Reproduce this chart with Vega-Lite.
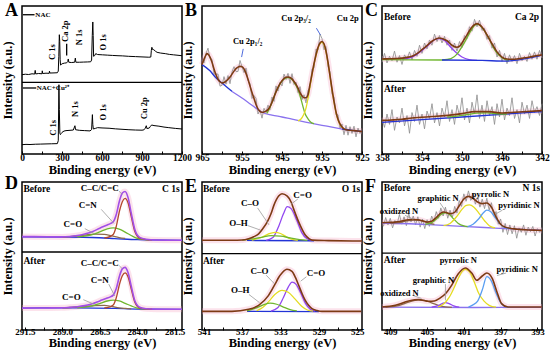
{
"$schema":"https://vega.github.io/schema/vega-lite/v6.json",
"autosize":{"type":"pad"},
"padding":{"left":0,"top":1,"right":0,"bottom":0},
"background":"white",
"bounds":"flush",
"columns":3,
"spacing":{"row":28,"column":20},
"config":{
 "view":{"stroke":"#000","strokeWidth":1.5},
 "font":"Liberation Serif",
 "title":{"anchor":"start","frame":"group","font":"Liberation Serif","fontWeight":"bold","fontSize":18,"dx":-17,"dy":18,"offset":0,"baseline":"alphabetic","color":"#000"},
 "text":{"font":"Liberation Serif","fontWeight":"bold","fontSize":9,"color":"#000"},
 "axis":{"grid":false,"domain":false,"labelFont":"Liberation Serif","labelFontWeight":"bold","labelFontSize":9.5,"labelColor":"#000","titleFont":"Liberation Serif","titleFontWeight":"bold","titleColor":"#000","tickColor":"#000"},
 "axisX":{"tickSize":-3,"labelPadding":1.5,"titleFontSize":12.5,"titlePadding":1,"labelFlush":false,"labelOverlap":false},
 "axisY":{"labels":false,"ticks":false,"titleFontSize":12.5,"titlePadding":8}
},
"datasets":{
"A":[
{"k":"a1","x":0,"y":53.6},{"k":"a1","x":25,"y":53.9},{"k":"a1","x":50,"y":53.7},{"k":"a1","x":75,"y":54.2},{"k":"a1","x":95,"y":54.0},{"k":"a1","x":99,"y":56.5},{"k":"a1","x":103,"y":54.1},{"k":"a1","x":125,"y":54.4},{"k":"a1","x":150,"y":54.2},{"k":"a1","x":152,"y":56.2},{"k":"a1","x":155,"y":54.4},{"k":"a1","x":180,"y":54.6},{"k":"a1","x":204,"y":54.5},{"k":"a1","x":206,"y":56.0},{"k":"a1","x":209,"y":54.7},{"k":"a1","x":240,"y":54.8},{"k":"a1","x":265,"y":54.9},{"k":"a1","x":272,"y":56},{"k":"a1","x":276,"y":66},{"k":"a1","x":280,"y":80.6},{"k":"a1","x":283,"y":76},{"k":"a1","x":286,"y":64},{"k":"a1","x":289,"y":60},{"k":"a1","x":294,"y":60.5},{"k":"a1","x":301,"y":61},{"k":"a1","x":318,"y":61.4},{"k":"a1","x":335,"y":61.6},{"k":"a1","x":343,"y":62.5},{"k":"a1","x":347,"y":64.2},{"k":"a1","x":351,"y":62},{"k":"a1","x":370,"y":61.8},{"k":"a1","x":395,"y":62},{"k":"a1","x":400,"y":64.8},{"k":"a1","x":404,"y":62},{"k":"a1","x":430,"y":62},{"k":"a1","x":460,"y":62.1},{"k":"a1","x":490,"y":62.2},{"k":"a1","x":515,"y":62.3},{"k":"a1","x":522,"y":63.5},{"k":"a1","x":527,"y":80},{"k":"a1","x":531,"y":89.2},{"k":"a1","x":534,"y":80},{"k":"a1","x":537,"y":66},{"k":"a1","x":545,"y":66.5},{"k":"a1","x":553,"y":67.8},{"k":"a1","x":567,"y":67.2},{"k":"a1","x":604,"y":67},{"k":"a1","x":640,"y":66.8},{"k":"a1","x":678,"y":66.6},{"k":"a1","x":720,"y":66.4},{"k":"a1","x":753,"y":66.3},{"k":"a1","x":800,"y":66},{"k":"a1","x":852,"y":65.8},{"k":"a1","x":900,"y":65.6},{"k":"a1","x":951,"y":65.4},{"k":"a1","x":966,"y":65.5},{"k":"a1","x":970,"y":70},{"k":"a1","x":974,"y":72.1},{"k":"a1","x":980,"y":70.5},{"k":"a1","x":988,"y":70.5},{"k":"a1","x":1000,"y":69.5},{"k":"a1","x":1013,"y":68.7},{"k":"a1","x":1040,"y":68.2},{"k":"a1","x":1075,"y":67.8},{"k":"a1","x":1105,"y":67.3},{"k":"a1","x":1137,"y":67},{"k":"a1","x":1170,"y":66.7},{"k":"a1","x":1200,"y":66.4},
{"k":"a2","x":0,"y":6.3},{"k":"a2","x":30,"y":6.5},{"k":"a2","x":60,"y":6.4},{"k":"a2","x":100,"y":6.6},{"k":"a2","x":140,"y":6.7},{"k":"a2","x":180,"y":6.8},{"k":"a2","x":220,"y":6.9},{"k":"a2","x":265,"y":7.0},{"k":"a2","x":272,"y":9},{"k":"a2","x":277,"y":46.8},{"k":"a2","x":280,"y":30},{"k":"a2","x":284,"y":14},{"k":"a2","x":288,"y":13.1},{"k":"a2","x":295,"y":14},{"k":"a2","x":300,"y":14.6},{"k":"a2","x":315,"y":15.5},{"k":"a2","x":330,"y":15.8},{"k":"a2","x":360,"y":16},{"k":"a2","x":385,"y":16.2},{"k":"a2","x":397,"y":19.1},{"k":"a2","x":402,"y":16.4},{"k":"a2","x":430,"y":16},{"k":"a2","x":470,"y":15.8},{"k":"a2","x":510,"y":15.6},{"k":"a2","x":522,"y":16.5},{"k":"a2","x":528,"y":26.6},{"k":"a2","x":531,"y":20},{"k":"a2","x":535,"y":16.9},{"k":"a2","x":550,"y":17.3},{"k":"a2","x":567,"y":17.8},{"k":"a2","x":600,"y":17.6},{"k":"a2","x":653,"y":17.4},{"k":"a2","x":700,"y":17},{"k":"a2","x":750,"y":16.7},{"k":"a2","x":802,"y":16.4},{"k":"a2","x":850,"y":16.2},{"k":"a2","x":900,"y":16.1},{"k":"a2","x":914,"y":16.3},{"k":"a2","x":925,"y":17.5},{"k":"a2","x":932,"y":19.1},{"k":"a2","x":938,"y":17},{"k":"a2","x":945,"y":17.6},{"k":"a2","x":952,"y":17.3},{"k":"a2","x":962,"y":18.5},{"k":"a2","x":972,"y":19.6},{"k":"a2","x":990,"y":19.2},{"k":"a2","x":1027,"y":18.8},{"k":"a2","x":1065,"y":18.2},{"k":"a2","x":1101,"y":17.8},{"k":"a2","x":1150,"y":17.3},{"k":"a2","x":1200,"y":16.9}
],
"Ar":[{"x":0,"x2":1200,"y":48.4,"y2":48.4},{"x":7,"x2":94,"y":94.1,"y2":94.1},{"x":7,"x2":107,"y":44.6,"y2":44.6},{"x":335,"x2":335,"y":66.5,"y2":74.5}],
"At":[{"t":"C 1s","x":224,"y":68.9},{"t":"Ca 2p","x":325,"y":83},{"t":"N 1s","x":430,"y":78.8},{"t":"O 1s","x":604,"y":75.5},{"t":"C 1s","x":231,"y":17.6},{"t":"N 1s","x":400,"y":30.4},{"t":"O 1s","x":604,"y":28.2},{"t":"Cu 2p","x":914,"y":30.9}],
"Al":[{"t":"NAC","x":100,"y":94.1},{"t":"NAC+Cu²⁺","x":110,"y":44.6}],
"B":[
{"k":"e","c":"env","x":965,"y":60.4},{"k":"e","c":"env","x":964.5,"y":64},{"k":"e","c":"env","x":964,"y":67},{"k":"e","c":"env","x":963.75,"y":67.8},{"k":"e","c":"env","x":963.5,"y":67.5},{"k":"e","c":"env","x":963,"y":65.5},{"k":"e","c":"env","x":962.5,"y":62},{"k":"e","c":"env","x":962,"y":57.5},{"k":"e","c":"env","x":961.5,"y":53.5},{"k":"e","c":"env","x":961,"y":50.5},{"k":"e","c":"env","x":960.5,"y":48.8},{"k":"e","c":"env","x":960,"y":48},{"k":"e","c":"env","x":959.5,"y":48.3},{"k":"e","c":"env","x":959,"y":49.2},{"k":"e","c":"env","x":958.5,"y":50.5},{"k":"e","c":"env","x":958,"y":52},{"k":"e","c":"env","x":957.5,"y":54},{"k":"e","c":"env","x":957,"y":56},{"k":"e","c":"env","x":956.5,"y":57.7},{"k":"e","c":"env","x":956,"y":58.7},{"k":"e","c":"env","x":955.5,"y":59.2},{"k":"e","c":"env","x":955,"y":59},{"k":"e","c":"env","x":954.5,"y":57.5},{"k":"e","c":"env","x":954,"y":54.5},{"k":"e","c":"env","x":953.5,"y":50.5},{"k":"e","c":"env","x":953,"y":46},{"k":"e","c":"env","x":952.5,"y":41.5},{"k":"e","c":"env","x":952,"y":37.5},{"k":"e","c":"env","x":951.5,"y":33.5},{"k":"e","c":"env","x":951,"y":30.5},{"k":"e","c":"env","x":950.5,"y":28.8},{"k":"e","c":"env","x":950,"y":28.2},{"k":"e","c":"env","x":949.5,"y":28.4},{"k":"e","c":"env","x":949,"y":29},{"k":"e","c":"env","x":948.5,"y":30},{"k":"e","c":"env","x":948,"y":32},{"k":"e","c":"env","x":947.5,"y":35},{"k":"e","c":"env","x":947,"y":38.5},{"k":"e","c":"env","x":946.5,"y":42},{"k":"e","c":"env","x":946,"y":45},{"k":"e","c":"env","x":945.5,"y":47.5},{"k":"e","c":"env","x":945,"y":49.5},{"k":"e","c":"env","x":944.5,"y":51},{"k":"e","c":"env","x":944,"y":51.8},{"k":"e","c":"env","x":943.5,"y":52},{"k":"e","c":"env","x":943,"y":51.7},{"k":"e","c":"env","x":942.5,"y":50.8},{"k":"e","c":"env","x":942,"y":49},{"k":"e","c":"env","x":941.5,"y":47},{"k":"e","c":"env","x":941,"y":44.5},{"k":"e","c":"env","x":940.5,"y":41.5},{"k":"e","c":"env","x":940,"y":39.3},{"k":"e","c":"env","x":939.5,"y":38},{"k":"e","c":"env","x":939,"y":38},{"k":"e","c":"env","x":938.5,"y":40},{"k":"e","c":"env","x":938,"y":47},{"k":"e","c":"env","x":937.5,"y":54},{"k":"e","c":"env","x":937,"y":61},{"k":"e","c":"env","x":936.5,"y":67},{"k":"e","c":"env","x":936,"y":72},{"k":"e","c":"env","x":935.5,"y":75},{"k":"e","c":"env","x":935,"y":76},{"k":"e","c":"env","x":934.5,"y":74.5},{"k":"e","c":"env","x":934,"y":69.5},{"k":"e","c":"env","x":933.5,"y":62},{"k":"e","c":"env","x":933,"y":53},{"k":"e","c":"env","x":932.5,"y":44},{"k":"e","c":"env","x":932,"y":35.5},{"k":"e","c":"env","x":931.5,"y":28.5},{"k":"e","c":"env","x":931,"y":23.5},{"k":"e","c":"env","x":930.5,"y":20.3},{"k":"e","c":"env","x":930,"y":18.3},{"k":"e","c":"env","x":929.5,"y":17},{"k":"e","c":"env","x":929,"y":16.4},{"k":"e","c":"env","x":928,"y":16},{"k":"e","c":"env","x":927,"y":15.8},{"k":"e","c":"env","x":926,"y":15.5},{"k":"e","c":"env","x":925,"y":15.3},
{"k":"n","c":"gray","x":965,"y":63.4},{"k":"n","c":"gray","x":964.5,"y":61.5},{"k":"n","c":"gray","x":964,"y":68},{"k":"n","c":"gray","x":963.5,"y":71.5},{"k":"n","c":"gray","x":963,"y":64.5},{"k":"n","c":"gray","x":962.5,"y":64},{"k":"n","c":"gray","x":962,"y":54},{"k":"n","c":"gray","x":961.5,"y":54},{"k":"n","c":"gray","x":961,"y":54},{"k":"n","c":"gray","x":960.5,"y":45.8},{"k":"n","c":"gray","x":960,"y":46.5},{"k":"n","c":"gray","x":959.5,"y":52.3},{"k":"n","c":"gray","x":959,"y":47.2},{"k":"n","c":"gray","x":958.5,"y":53},{"k":"n","c":"gray","x":958,"y":47.5},{"k":"n","c":"gray","x":957.5,"y":55.5},{"k":"n","c":"gray","x":957,"y":59},{"k":"n","c":"gray","x":956.5,"y":55.7},{"k":"n","c":"gray","x":956,"y":55.7},{"k":"n","c":"gray","x":955.5,"y":63.2},{"k":"n","c":"gray","x":955,"y":59},{"k":"n","c":"gray","x":954.5,"y":55},{"k":"n","c":"gray","x":954,"y":58},{"k":"n","c":"gray","x":953.5,"y":49.5},{"k":"n","c":"gray","x":953,"y":47.5},{"k":"n","c":"gray","x":952.5,"y":37.5},{"k":"n","c":"gray","x":952,"y":39.5},{"k":"n","c":"gray","x":951.5,"y":37.5},{"k":"n","c":"gray","x":951,"y":27},{"k":"n","c":"gray","x":950.5,"y":29.8},{"k":"n","c":"gray","x":950,"y":24.2},{"k":"n","c":"gray","x":949.5,"y":30.9},{"k":"n","c":"gray","x":949,"y":28},{"k":"n","c":"gray","x":948.5,"y":33},{"k":"n","c":"gray","x":948,"y":30},{"k":"n","c":"gray","x":947.5,"y":38.5},{"k":"n","c":"gray","x":947,"y":35.5},{"k":"n","c":"gray","x":946.5,"y":46},{"k":"n","c":"gray","x":946,"y":42.5},{"k":"n","c":"gray","x":945.5,"y":48.5},{"k":"n","c":"gray","x":945,"y":46},{"k":"n","c":"gray","x":944.5,"y":54},{"k":"n","c":"gray","x":944,"y":50.3},{"k":"n","c":"gray","x":943.5,"y":54.5},{"k":"n","c":"gray","x":943,"y":47.7},{"k":"n","c":"gray","x":942.5,"y":54.3},{"k":"n","c":"gray","x":942,"y":47},{"k":"n","c":"gray","x":941.5,"y":48.5},{"k":"n","c":"gray","x":941,"y":41.5},{"k":"n","c":"gray","x":940.5,"y":45.5},{"k":"n","c":"gray","x":940,"y":36.8},{"k":"n","c":"gray","x":939.5,"y":40},{"k":"n","c":"gray","x":939,"y":34.5},{"k":"n","c":"gray","x":938.5,"y":43},{"k":"n","c":"gray","x":938,"y":45},{"k":"n","c":"gray","x":937.5,"y":57.5},{"k":"n","c":"gray","x":937,"y":58},{"k":"n","c":"gray","x":936.5,"y":71},{"k":"n","c":"gray","x":936,"y":70},{"k":"n","c":"gray","x":935.5,"y":81},{"k":"n","c":"gray","x":935,"y":78},{"k":"n","c":"gray","x":934.5,"y":70.5},{"k":"n","c":"gray","x":934,"y":72.5},{"k":"n","c":"gray","x":933.5,"y":59},{"k":"n","c":"gray","x":933,"y":55.5},{"k":"n","c":"gray","x":932.5,"y":40.5},{"k":"n","c":"gray","x":932,"y":38.5},{"k":"n","c":"gray","x":931.5,"y":26.5},{"k":"n","c":"gray","x":931,"y":26.5},{"k":"n","c":"gray","x":930.5,"y":17.3},{"k":"n","c":"gray","x":930,"y":20.3},{"k":"n","c":"gray","x":929.5,"y":13},{"k":"n","c":"gray","x":929,"y":19.4},{"k":"n","c":"gray","x":928.5,"y":12.7},{"k":"n","c":"gray","x":928,"y":18.5},{"k":"n","c":"gray","x":927.5,"y":13.9},{"k":"n","c":"gray","x":927,"y":18.8},{"k":"n","c":"gray","x":926.5,"y":11.6},{"k":"n","c":"gray","x":926,"y":17.5},{"k":"n","c":"gray","x":925.5,"y":13.9},{"k":"n","c":"gray","x":925,"y":16.3},
{"k":"b1","c":"bg","x":965,"y":60.4},{"k":"b1","c":"bg","x":963,"y":56.2},{"k":"b1","c":"bg","x":961.7,"y":52},{"k":"b1","c":"bg","x":960,"y":48},{"k":"b1","c":"bg","x":957.5,"y":42.3},
{"k":"b2","c":"bgp","x":957.5,"y":42.3},{"k":"b2","c":"bgp","x":955,"y":37.8},{"k":"b2","c":"bgp","x":953.3,"y":34.5},{"k":"b2","c":"bgp","x":951.5,"y":31},{"k":"b2","c":"bgp","x":950,"y":28.2},{"k":"b2","c":"bgp","x":947.5,"y":26.3},{"k":"b2","c":"bgp","x":945,"y":25},{"k":"b2","c":"bgp","x":942.5,"y":23.5},{"k":"b2","c":"bgp","x":940,"y":22.1},{"k":"b2","c":"bgp","x":937.5,"y":20.7},{"k":"b2","c":"bgp","x":935,"y":19.4},{"k":"b2","c":"bgp","x":932.5,"y":18.2},{"k":"b2","c":"bgp","x":930,"y":16.9},
{"k":"b3","c":"bg","x":930,"y":16.9},{"k":"b3","c":"bg","x":927.5,"y":16},{"k":"b3","c":"bg","x":925,"y":15.3},
{"k":"g","c":"green","x":948.8,"y":27.5},{"k":"g","c":"green","x":948.3,"y":29.8},{"k":"g","c":"green","x":947.5,"y":34.8},{"k":"g","c":"green","x":946.7,"y":40.8},{"k":"g","c":"green","x":946,"y":44.8},{"k":"g","c":"green","x":945,"y":49.3},{"k":"g","c":"green","x":944,"y":51.5},{"k":"g","c":"green","x":943.3,"y":51.7},{"k":"g","c":"green","x":942.5,"y":50.3},{"k":"g","c":"green","x":941.7,"y":47.2},{"k":"g","c":"green","x":941,"y":43.5},{"k":"g","c":"green","x":940.4,"y":38.5},{"k":"g","c":"green","x":939.8,"y":32.5},{"k":"g","c":"green","x":939.2,"y":27},{"k":"g","c":"green","x":938.5,"y":23.8},{"k":"g","c":"green","x":937.8,"y":21.5},{"k":"g","c":"green","x":937,"y":20.5},
{"k":"y","c":"yellow","x":941,"y":22.4},{"k":"y","c":"yellow","x":940.3,"y":23.5},{"k":"y","c":"yellow","x":939.6,"y":26.5},{"k":"y","c":"yellow","x":939,"y":31},{"k":"y","c":"yellow","x":938.5,"y":37.5},{"k":"y","c":"yellow","x":938,"y":45.5},{"k":"y","c":"yellow","x":937.5,"y":53.5},{"k":"y","c":"yellow","x":937,"y":60.5},{"k":"y","c":"yellow","x":936.5,"y":66.5},{"k":"y","c":"yellow","x":936,"y":71.5},{"k":"y","c":"yellow","x":935.5,"y":74.5},{"k":"y","c":"yellow","x":935,"y":75.5},{"k":"y","c":"yellow","x":934.5,"y":74},{"k":"y","c":"yellow","x":934,"y":69},{"k":"y","c":"yellow","x":933.5,"y":61.5},{"k":"y","c":"yellow","x":933,"y":52.5},{"k":"y","c":"yellow","x":932.5,"y":43.5},{"k":"y","c":"yellow","x":932,"y":35},{"k":"y","c":"yellow","x":931.5,"y":28},{"k":"y","c":"yellow","x":931,"y":23},{"k":"y","c":"yellow","x":930.5,"y":20},{"k":"y","c":"yellow","x":930,"y":18},{"k":"y","c":"yellow","x":929.3,"y":17}
],
"Br":[{"x":936.4,"x2":935.4,"y":85,"y2":80.5},{"x":954.7,"x2":955.1,"y":71,"y2":65.5}],
"Bc":[{"t":"Cu 2p₃/₂","x":941.5,"y":91.9},{"t":"Cu 2p₁/₂","x":953.6,"y":76.1}],
"Bri":[{"t":"Cu 2p","x":925.8,"y":91.9}],
"C":[
{"k":"e1","c":"env","x":358,"y":64.2},{"k":"e1","c":"env","x":357.5,"y":64.3},{"k":"e1","c":"env","x":357,"y":64.4},{"k":"e1","c":"env","x":356.5,"y":64.5},{"k":"e1","c":"env","x":356,"y":64.8},{"k":"e1","c":"env","x":355.5,"y":65.3},{"k":"e1","c":"env","x":355,"y":66},{"k":"e1","c":"env","x":354.5,"y":67.8},{"k":"e1","c":"env","x":354,"y":70.5},{"k":"e1","c":"env","x":353.5,"y":73.3},{"k":"e1","c":"env","x":353,"y":76.2},{"k":"e1","c":"env","x":352.5,"y":78},{"k":"e1","c":"env","x":352.3,"y":78.4},{"k":"e1","c":"env","x":352,"y":78.1},{"k":"e1","c":"env","x":351.5,"y":76.5},{"k":"e1","c":"env","x":351,"y":73.5},{"k":"e1","c":"env","x":350.5,"y":72.1},{"k":"e1","c":"env","x":350.2,"y":73},{"k":"e1","c":"env","x":350,"y":75},{"k":"e1","c":"env","x":349.5,"y":80.5},{"k":"e1","c":"env","x":349,"y":85.8},{"k":"e1","c":"env","x":348.5,"y":88.1},{"k":"e1","c":"env","x":348,"y":85.8},{"k":"e1","c":"env","x":347.5,"y":80.5},{"k":"e1","c":"env","x":347,"y":74.5},{"k":"e1","c":"env","x":346.5,"y":69},{"k":"e1","c":"env","x":346,"y":65.5},{"k":"e1","c":"env","x":345.5,"y":64.2},{"k":"e1","c":"env","x":345,"y":64},{"k":"e1","c":"env","x":344.5,"y":64.2},{"k":"e1","c":"env","x":344,"y":64.6},{"k":"e1","c":"env","x":343.5,"y":65.2},{"k":"e1","c":"env","x":343,"y":65.8},{"k":"e1","c":"env","x":342.5,"y":66.5},{"k":"e1","c":"env","x":342,"y":67},
{"k":"p1","c":"purple","x":356,"y":64},{"k":"p1","c":"purple","x":355,"y":65.5},{"k":"p1","c":"purple","x":354,"y":70},{"k":"p1","c":"purple","x":353.3,"y":74},{"k":"p1","c":"purple","x":352.8,"y":77},{"k":"p1","c":"purple","x":352.3,"y":78},{"k":"p1","c":"purple","x":351.7,"y":76.5},{"k":"p1","c":"purple","x":351.1,"y":72},{"k":"p1","c":"purple","x":350.5,"y":68},{"k":"p1","c":"purple","x":350,"y":65.5},{"k":"p1","c":"purple","x":349.3,"y":63.8},{"k":"p1","c":"purple","x":348.5,"y":63.3},
{"k":"g1","c":"green","x":352,"y":63.5},{"k":"g1","c":"green","x":351.1,"y":64.5},{"k":"g1","c":"green","x":350.5,"y":67.5},{"k":"g1","c":"green","x":350,"y":72.5},{"k":"g1","c":"green","x":349.3,"y":81},{"k":"g1","c":"green","x":348.8,"y":86.5},{"k":"g1","c":"green","x":348.5,"y":87.8},{"k":"g1","c":"green","x":348,"y":85.5},{"k":"g1","c":"green","x":347.3,"y":78},{"k":"g1","c":"green","x":346.7,"y":70},{"k":"g1","c":"green","x":346,"y":65},{"k":"g1","c":"green","x":345.3,"y":63},
{"k":"bb","c":"green","x":358,"y":63.8},{"k":"bb","c":"green","x":355,"y":63.6},{"k":"bb","c":"green","x":352,"y":63.5},
{"k":"b1","c":"bg","x":352,"y":63.5},{"k":"b1","c":"bg","x":348,"y":63.2},{"k":"b1","c":"bg","x":345.5,"y":62.8},{"k":"b1","c":"bg","x":344.5,"y":63.4},{"k":"b1","c":"bg","x":343.5,"y":64.6},{"k":"b1","c":"bg","x":342.5,"y":66},{"k":"b1","c":"bg","x":342,"y":66.8},
{"k":"e2","c":"env","x":358,"y":22.7},{"k":"e2","c":"env","x":356,"y":23.5},{"k":"e2","c":"env","x":355,"y":24.3},{"k":"e2","c":"env","x":353,"y":25.3},{"k":"e2","c":"env","x":351.7,"y":25.9},{"k":"e2","c":"env","x":350,"y":27.3},{"k":"e2","c":"env","x":348.7,"y":28.6},{"k":"e2","c":"env","x":347.3,"y":28.6},{"k":"e2","c":"env","x":346,"y":27.7},{"k":"e2","c":"env","x":344.7,"y":28.2},{"k":"e2","c":"env","x":342,"y":29.3},
{"k":"b2","c":"bg","x":358,"y":21.4},{"k":"b2","c":"bg","x":350,"y":25},{"k":"b2","c":"bg","x":342,"y":28.6},
{"k":"g2","c":"green","x":351.5,"y":24.9},{"k":"g2","c":"green","x":350.5,"y":25.6},{"k":"g2","c":"green","x":349.5,"y":26.6},{"k":"g2","c":"green","x":348.5,"y":27.6},{"k":"g2","c":"green","x":347.5,"y":27.8},{"k":"g2","c":"green","x":346.5,"y":27.2},{"k":"g2","c":"green","x":345.5,"y":26.9},
{"k":"n1","c":"gray","x":358,"y":62},{"k":"n1","c":"gray","x":357.75,"y":68},{"k":"n1","c":"gray","x":357.5,"y":61.5},{"k":"n1","c":"gray","x":357.25,"y":66},{"k":"n1","c":"gray","x":357,"y":63},{"k":"n1","c":"gray","x":356.75,"y":69.5},{"k":"n1","c":"gray","x":356.5,"y":62},{"k":"n1","c":"gray","x":356.25,"y":66.5},{"k":"n1","c":"gray","x":356,"y":60.5},{"k":"n1","c":"gray","x":355.75,"y":67},{"k":"n1","c":"gray","x":355.5,"y":64},{"k":"n1","c":"gray","x":355.25,"y":69},{"k":"n1","c":"gray","x":355,"y":63.5},{"k":"n1","c":"gray","x":354.75,"y":70},{"k":"n1","c":"gray","x":354.5,"y":66},{"k":"n1","c":"gray","x":354.25,"y":73.5},{"k":"n1","c":"gray","x":354,"y":68},{"k":"n1","c":"gray","x":353.75,"y":75},{"k":"n1","c":"gray","x":353.5,"y":71},{"k":"n1","c":"gray","x":353.25,"y":77},{"k":"n1","c":"gray","x":353,"y":73.5},{"k":"n1","c":"gray","x":352.75,"y":81},{"k":"n1","c":"gray","x":352.5,"y":76},{"k":"n1","c":"gray","x":352.25,"y":80},{"k":"n1","c":"gray","x":352,"y":75},{"k":"n1","c":"gray","x":351.75,"y":79.5},{"k":"n1","c":"gray","x":351.5,"y":73.5},{"k":"n1","c":"gray","x":351.25,"y":77},{"k":"n1","c":"gray","x":351,"y":70},{"k":"n1","c":"gray","x":350.75,"y":75},{"k":"n1","c":"gray","x":350.5,"y":69.5},{"k":"n1","c":"gray","x":350.25,"y":76},{"k":"n1","c":"gray","x":350,"y":72},{"k":"n1","c":"gray","x":349.75,"y":80},{"k":"n1","c":"gray","x":349.5,"y":78},{"k":"n1","c":"gray","x":349.25,"y":86},{"k":"n1","c":"gray","x":349,"y":83},{"k":"n1","c":"gray","x":348.75,"y":91},{"k":"n1","c":"gray","x":348.5,"y":86},{"k":"n1","c":"gray","x":348.25,"y":90.5},{"k":"n1","c":"gray","x":348,"y":83.5},{"k":"n1","c":"gray","x":347.75,"y":85},{"k":"n1","c":"gray","x":347.5,"y":77.5},{"k":"n1","c":"gray","x":347.25,"y":80},{"k":"n1","c":"gray","x":347,"y":71.5},{"k":"n1","c":"gray","x":346.75,"y":75},{"k":"n1","c":"gray","x":346.5,"y":65.5},{"k":"n1","c":"gray","x":346.25,"y":70},{"k":"n1","c":"gray","x":346,"y":62.5},{"k":"n1","c":"gray","x":345.75,"y":68},{"k":"n1","c":"gray","x":345.5,"y":61},{"k":"n1","c":"gray","x":345.25,"y":67},{"k":"n1","c":"gray","x":345,"y":62.5},{"k":"n1","c":"gray","x":344.75,"y":66.5},{"k":"n1","c":"gray","x":344.5,"y":61},{"k":"n1","c":"gray","x":344.25,"y":68},{"k":"n1","c":"gray","x":344,"y":63},{"k":"n1","c":"gray","x":343.75,"y":66},{"k":"n1","c":"gray","x":343.5,"y":62.5},{"k":"n1","c":"gray","x":343.25,"y":68.5},{"k":"n1","c":"gray","x":343,"y":64},{"k":"n1","c":"gray","x":342.75,"y":69},{"k":"n1","c":"gray","x":342.5,"y":64},{"k":"n1","c":"gray","x":342.25,"y":70},{"k":"n1","c":"gray","x":342,"y":65},
{"k":"n2","c":"gray","x":358,"y":24},{"k":"n2","c":"gray","x":357.75,"y":18},{"k":"n2","c":"gray","x":357.5,"y":27},{"k":"n2","c":"gray","x":357.25,"y":20},{"k":"n2","c":"gray","x":357,"y":30},{"k":"n2","c":"gray","x":356.75,"y":16},{"k":"n2","c":"gray","x":356.5,"y":25},{"k":"n2","c":"gray","x":356.25,"y":21},{"k":"n2","c":"gray","x":356,"y":31},{"k":"n2","c":"gray","x":355.75,"y":19},{"k":"n2","c":"gray","x":355.5,"y":26},{"k":"n2","c":"gray","x":355.25,"y":14},{"k":"n2","c":"gray","x":355,"y":28},{"k":"n2","c":"gray","x":354.75,"y":22},{"k":"n2","c":"gray","x":354.5,"y":33},{"k":"n2","c":"gray","x":354.25,"y":20},{"k":"n2","c":"gray","x":354,"y":27},{"k":"n2","c":"gray","x":353.75,"y":17},{"k":"n2","c":"gray","x":353.5,"y":29},{"k":"n2","c":"gray","x":353.25,"y":24},{"k":"n2","c":"gray","x":353,"y":34},{"k":"n2","c":"gray","x":352.75,"y":21},{"k":"n2","c":"gray","x":352.5,"y":28},{"k":"n2","c":"gray","x":352.25,"y":19},{"k":"n2","c":"gray","x":352,"y":31},{"k":"n2","c":"gray","x":351.75,"y":25},{"k":"n2","c":"gray","x":351.5,"y":36},{"k":"n2","c":"gray","x":351.25,"y":22},{"k":"n2","c":"gray","x":351,"y":30},{"k":"n2","c":"gray","x":350.75,"y":20},{"k":"n2","c":"gray","x":350.5,"y":33},{"k":"n2","c":"gray","x":350.25,"y":26},{"k":"n2","c":"gray","x":350,"y":38},{"k":"n2","c":"gray","x":349.75,"y":23},{"k":"n2","c":"gray","x":349.5,"y":31},{"k":"n2","c":"gray","x":349.25,"y":21},{"k":"n2","c":"gray","x":349,"y":35},{"k":"n2","c":"gray","x":348.75,"y":27},{"k":"n2","c":"gray","x":348.5,"y":40},{"k":"n2","c":"gray","x":348.25,"y":24},{"k":"n2","c":"gray","x":348,"y":33},{"k":"n2","c":"gray","x":347.75,"y":22},{"k":"n2","c":"gray","x":347.5,"y":36},{"k":"n2","c":"gray","x":347.25,"y":26},{"k":"n2","c":"gray","x":347,"y":32},{"k":"n2","c":"gray","x":346.75,"y":20},{"k":"n2","c":"gray","x":346.5,"y":34},{"k":"n2","c":"gray","x":346.25,"y":25},{"k":"n2","c":"gray","x":346,"y":37},{"k":"n2","c":"gray","x":345.75,"y":23},{"k":"n2","c":"gray","x":345.5,"y":31},{"k":"n2","c":"gray","x":345.25,"y":26},{"k":"n2","c":"gray","x":345,"y":38},{"k":"n2","c":"gray","x":344.75,"y":24},{"k":"n2","c":"gray","x":344.5,"y":30},{"k":"n2","c":"gray","x":344.25,"y":21},{"k":"n2","c":"gray","x":344,"y":35},{"k":"n2","c":"gray","x":343.75,"y":27},{"k":"n2","c":"gray","x":343.5,"y":33},{"k":"n2","c":"gray","x":343.25,"y":24},{"k":"n2","c":"gray","x":343,"y":36},{"k":"n2","c":"gray","x":342.75,"y":28},{"k":"n2","c":"gray","x":342.5,"y":32},{"k":"n2","c":"gray","x":342.25,"y":26},{"k":"n2","c":"gray","x":342,"y":34}
],
"Cl":[{"t":"Before","x":357.8,"y":92.6},{"t":"After","x":357.8,"y":43.9}],
"Cri":[{"t":"Ca 2p","x":342.3,"y":92.6}],
"D":[
{"k":"e1","c":"envp","x":291.7,"y":63.1},{"k":"e1","c":"envp","x":290,"y":63},{"k":"e1","c":"envp","x":289,"y":62.9},{"k":"e1","c":"envp","x":288.5,"y":63.2},{"k":"e1","c":"envp","x":288,"y":63.8},{"k":"e1","c":"envp","x":287.5,"y":64.9},{"k":"e1","c":"envp","x":287,"y":66.4},{"k":"e1","c":"envp","x":286.5,"y":68.8},{"k":"e1","c":"envp","x":286,"y":71},{"k":"e1","c":"envp","x":285.8,"y":71.9},{"k":"e1","c":"envp","x":285.6,"y":73.1},{"k":"e1","c":"envp","x":285.4,"y":77.9},{"k":"e1","c":"envp","x":285.17,"y":87.7},{"k":"e1","c":"envp","x":284.99,"y":92.6},{"k":"e1","c":"envp","x":284.81,"y":93.6},{"k":"e1","c":"envp","x":284.61,"y":89.6},{"k":"e1","c":"envp","x":284.39,"y":78.7},{"k":"e1","c":"envp","x":284.16,"y":68.1},{"k":"e1","c":"envp","x":283.83,"y":62.6},{"k":"e1","c":"envp","x":283.4,"y":61.3},{"k":"e1","c":"envp","x":282.7,"y":60.8},{"k":"e1","c":"envp","x":281,"y":60.6},
{"k":"b1","c":"bg","x":291.7,"y":63},{"k":"b1","c":"bg","x":289,"y":62.8},{"k":"b1","c":"bg","x":287,"y":62.5},{"k":"b1","c":"bg","x":285.5,"y":61.8},{"k":"b1","c":"bg","x":284,"y":61},{"k":"b1","c":"bg","x":281,"y":60.6},
{"k":"o1","c":"olive","x":289,"y":62.85},{"k":"o1","c":"olive","x":288.5,"y":63.05},{"k":"o1","c":"olive","x":287.5,"y":64.1},{"k":"o1","c":"olive","x":286.8,"y":64.75},{"k":"o1","c":"olive","x":286.2,"y":64.65},{"k":"o1","c":"olive","x":285.7,"y":63.65},{"k":"o1","c":"olive","x":285.2,"y":62.45},{"k":"o1","c":"olive","x":284.8,"y":61.85},
{"k":"g1","c":"green","x":288,"y":62.9},{"k":"g1","c":"green","x":287.6,"y":63.2},{"k":"g1","c":"green","x":287,"y":64.4},{"k":"g1","c":"green","x":286.5,"y":66.3},{"k":"g1","c":"green","x":286,"y":68.4},{"k":"g1","c":"green","x":285.6,"y":69},{"k":"g1","c":"green","x":285.2,"y":68.15},{"k":"g1","c":"green","x":284.8,"y":66.15},{"k":"g1","c":"green","x":284.4,"y":63.85},{"k":"g1","c":"green","x":284,"y":61.9},{"k":"g1","c":"green","x":283.6,"y":61.2},{"k":"g1","c":"green","x":283.2,"y":60.9},
{"k":"r1","c":"red","x":286.2,"y":62.3},{"k":"r1","c":"red","x":286,"y":62.5},{"k":"r1","c":"red","x":285.6,"y":64.5},{"k":"r1","c":"red","x":285.4,"y":69.9},{"k":"r1","c":"red","x":285.17,"y":80.8},{"k":"r1","c":"red","x":284.99,"y":86.7},{"k":"r1","c":"red","x":284.81,"y":88.9},{"k":"r1","c":"red","x":284.61,"y":86},{"k":"r1","c":"red","x":284.39,"y":76.4},{"k":"r1","c":"red","x":284.16,"y":66.7},{"k":"r1","c":"red","x":283.83,"y":62},{"k":"r1","c":"red","x":283.4,"y":61.1},{"k":"r1","c":"red","x":283,"y":60.9},
{"k":"e2","c":"envp","x":291.7,"y":14.8},{"k":"e2","c":"envp","x":290,"y":14.9},{"k":"e2","c":"envp","x":289,"y":15},{"k":"e2","c":"envp","x":288.5,"y":15.3},{"k":"e2","c":"envp","x":288,"y":15.7},{"k":"e2","c":"envp","x":287.5,"y":16.45},{"k":"e2","c":"envp","x":287,"y":17.7},{"k":"e2","c":"envp","x":286.5,"y":19.65},{"k":"e2","c":"envp","x":286,"y":21.55},{"k":"e2","c":"envp","x":285.8,"y":22.4},{"k":"e2","c":"envp","x":285.6,"y":23.55},{"k":"e2","c":"envp","x":285.4,"y":27.8},{"k":"e2","c":"envp","x":285.17,"y":36.85},{"k":"e2","c":"envp","x":284.99,"y":41.3},{"k":"e2","c":"envp","x":284.81,"y":42.3},{"k":"e2","c":"envp","x":284.61,"y":38.85},{"k":"e2","c":"envp","x":284.39,"y":29.45},{"k":"e2","c":"envp","x":284.16,"y":19.95},{"k":"e2","c":"envp","x":283.83,"y":15.4},{"k":"e2","c":"envp","x":283.4,"y":14.35},{"k":"e2","c":"envp","x":282.7,"y":14.05},{"k":"e2","c":"envp","x":281,"y":14},
{"k":"b2","c":"bg","x":291.7,"y":14.8},{"k":"b2","c":"bg","x":288,"y":15},{"k":"b2","c":"bg","x":285.5,"y":14.6},{"k":"b2","c":"bg","x":284,"y":14.1},{"k":"b2","c":"bg","x":281,"y":14},
{"k":"o2","c":"olive","x":289,"y":15},{"k":"o2","c":"olive","x":288.5,"y":15.2},{"k":"o2","c":"olive","x":287.5,"y":15.9},{"k":"o2","c":"olive","x":286.8,"y":16.5},{"k":"o2","c":"olive","x":286.2,"y":16.6},{"k":"o2","c":"olive","x":285.7,"y":15.9},{"k":"o2","c":"olive","x":285.2,"y":15},{"k":"o2","c":"olive","x":284.8,"y":14.6},{"k":"o2","c":"olive","x":284.4,"y":14.3},
{"k":"g2","c":"green","x":288,"y":15},{"k":"g2","c":"green","x":287.6,"y":15.4},{"k":"g2","c":"green","x":287,"y":16.3},{"k":"g2","c":"green","x":286.5,"y":17.9},{"k":"g2","c":"green","x":286,"y":19.6},{"k":"g2","c":"green","x":285.6,"y":20.2},{"k":"g2","c":"green","x":285.2,"y":19.6},{"k":"g2","c":"green","x":284.8,"y":18},{"k":"g2","c":"green","x":284.4,"y":16.3},{"k":"g2","c":"green","x":284,"y":14.8},{"k":"g2","c":"green","x":283.6,"y":14.3},{"k":"g2","c":"green","x":283.2,"y":14.1},
{"k":"r2","c":"red","x":286.2,"y":14.9},{"k":"r2","c":"red","x":286,"y":15.05},{"k":"r2","c":"red","x":285.6,"y":16.85},{"k":"r2","c":"red","x":285.4,"y":21.6},{"k":"r2","c":"red","x":285.17,"y":31.3},{"k":"r2","c":"red","x":284.99,"y":36.6},{"k":"r2","c":"red","x":284.81,"y":38.6},{"k":"r2","c":"red","x":284.61,"y":36},{"k":"r2","c":"red","x":284.39,"y":27.5},{"k":"r2","c":"red","x":284.16,"y":19},{"k":"r2","c":"red","x":283.83,"y":15},{"k":"r2","c":"red","x":283.4,"y":14.3},{"k":"r2","c":"red","x":283,"y":14.1}
],
"Dr":[{"x":285.2,"x2":285.0,"y":93.8,"y2":91.5},{"x":286.4,"x2":285.55,"y":81.5,"y2":72},{"x":287.5,"x2":286.85,"y":68.5,"y2":65},{"x":285.2,"x2":285.0,"y":43.5,"y2":41.5},{"x":285.9,"x2":285.5,"y":31,"y2":23},{"x":287.6,"x2":286.9,"y":20.5,"y2":17.5}],
"Dc":[{"t":"C–C/C=C","x":286.5,"y":95.9},{"t":"C=N","x":287.3,"y":84.2},{"t":"C=O","x":288.3,"y":71.4},{"t":"C–C/C=C","x":286.5,"y":45.5},{"t":"C=N","x":286.5,"y":33.6},{"t":"C=O","x":288.4,"y":22.3}],
"Dl":[{"t":"Before","x":291.6,"y":95.5},{"t":"After","x":291.6,"y":46.4}],
"Dri":[{"t":"C 1s","x":281.15,"y":95.5}],
"E":[
{"k":"e1","c":"env","x":541.2,"y":60.6},{"k":"e1","c":"env","x":538.07,"y":60.6},{"k":"e1","c":"env","x":537,"y":60.8},{"k":"e1","c":"env","x":536.33,"y":61.7},{"k":"e1","c":"env","x":535.8,"y":63},{"k":"e1","c":"env","x":535.29,"y":65},{"k":"e1","c":"env","x":534.85,"y":68.5},{"k":"e1","c":"env","x":534.4,"y":72.9},{"k":"e1","c":"env","x":534,"y":78.5},{"k":"e1","c":"env","x":533.7,"y":84.2},{"k":"e1","c":"env","x":533.2,"y":90.5},{"k":"e1","c":"env","x":532.85,"y":92.1},{"k":"e1","c":"env","x":532.3,"y":90.5},{"k":"e1","c":"env","x":531.9,"y":86.5},{"k":"e1","c":"env","x":531.65,"y":82},{"k":"e1","c":"env","x":531.1,"y":72.9},{"k":"e1","c":"env","x":530.4,"y":64},{"k":"e1","c":"env","x":530,"y":61.6},{"k":"e1","c":"env","x":529.7,"y":60.7},{"k":"e1","c":"env","x":528,"y":60.4},{"k":"e1","c":"env","x":524.5,"y":60.1},
{"k":"b1","c":"bg","x":536.5,"y":60.5},{"k":"b1","c":"bg","x":529.5,"y":60.3},
{"k":"p1","c":"purple","x":534.5,"y":60.6},{"k":"p1","c":"purple","x":533.8,"y":62.5},{"k":"p1","c":"purple","x":533.2,"y":70},{"k":"p1","c":"purple","x":532.7,"y":78.5},{"k":"p1","c":"purple","x":532.3,"y":83.3},{"k":"p1","c":"purple","x":531.9,"y":82},{"k":"p1","c":"purple","x":531.3,"y":74},{"k":"p1","c":"purple","x":530.8,"y":66},{"k":"p1","c":"purple","x":530.2,"y":61.5},{"k":"p1","c":"purple","x":529.7,"y":60.6},
{"k":"y1","c":"yellow","x":536,"y":60.8},{"k":"y1","c":"yellow","x":535,"y":62.5},{"k":"y1","c":"yellow","x":534.3,"y":64.8},{"k":"y1","c":"yellow","x":533.6,"y":66},{"k":"y1","c":"yellow","x":533,"y":65.2},{"k":"y1","c":"yellow","x":532.4,"y":63},{"k":"y1","c":"yellow","x":531.8,"y":61.2},{"k":"y1","c":"yellow","x":531.2,"y":60.6},
{"k":"g1","c":"green","x":537,"y":60.7},{"k":"g1","c":"green","x":536,"y":61.5},{"k":"g1","c":"green","x":535,"y":62.6},{"k":"g1","c":"green","x":534,"y":63.7},{"k":"g1","c":"green","x":533,"y":63.4},{"k":"g1","c":"green","x":532,"y":62.2},{"k":"g1","c":"green","x":531,"y":61.1},{"k":"g1","c":"green","x":530.2,"y":60.6},
{"k":"e2","c":"env","x":541.2,"y":12.6},{"k":"e2","c":"env","x":538.07,"y":12.6},{"k":"e2","c":"env","x":536.33,"y":14},{"k":"e2","c":"env","x":535.29,"y":16.7},{"k":"e2","c":"env","x":534.25,"y":23.4},{"k":"e2","c":"env","x":533.55,"y":31.3},{"k":"e2","c":"env","x":533.2,"y":35.5},{"k":"e2","c":"env","x":532.85,"y":38.5},{"k":"e2","c":"env","x":532.33,"y":41},{"k":"e2","c":"env","x":531.81,"y":39.6},{"k":"e2","c":"env","x":531.45,"y":35.5},{"k":"e2","c":"env","x":531.11,"y":30.2},{"k":"e2","c":"env","x":530.75,"y":24.5},{"k":"e2","c":"env","x":530.42,"y":20},{"k":"e2","c":"env","x":530.05,"y":16.5},{"k":"e2","c":"env","x":529.72,"y":14.4},{"k":"e2","c":"env","x":529.2,"y":13.2},{"k":"e2","c":"env","x":528.68,"y":12.6},{"k":"e2","c":"env","x":524.58,"y":12.6},
{"k":"b2","c":"bg","x":536.5,"y":12.6},{"k":"b2","c":"bg","x":529,"y":12.4},
{"k":"p2","c":"purple","x":534,"y":12.8},{"k":"p2","c":"purple","x":533.3,"y":15},{"k":"p2","c":"purple","x":532.7,"y":22},{"k":"p2","c":"purple","x":532.2,"y":29},{"k":"p2","c":"purple","x":531.8,"y":32.4},{"k":"p2","c":"purple","x":531.4,"y":31},{"k":"p2","c":"purple","x":530.9,"y":25},{"k":"p2","c":"purple","x":530.4,"y":18},{"k":"p2","c":"purple","x":529.9,"y":14},{"k":"p2","c":"purple","x":529.4,"y":12.7},
{"k":"y2","c":"yellow","x":535.5,"y":13},{"k":"y2","c":"yellow","x":534.8,"y":15.5},{"k":"y2","c":"yellow","x":534.2,"y":19.5},{"k":"y2","c":"yellow","x":533.6,"y":24},{"k":"y2","c":"yellow","x":532.85,"y":26.8},{"k":"y2","c":"yellow","x":532.2,"y":25.5},{"k":"y2","c":"yellow","x":531.5,"y":21},{"k":"y2","c":"yellow","x":530.8,"y":16},{"k":"y2","c":"yellow","x":530.2,"y":13.5},{"k":"y2","c":"yellow","x":529.6,"y":12.7},
{"k":"g2","c":"green","x":536.5,"y":13},{"k":"g2","c":"green","x":535.6,"y":14.8},{"k":"g2","c":"green","x":534.8,"y":17},{"k":"g2","c":"green","x":534.1,"y":18.2},{"k":"g2","c":"green","x":533.4,"y":17.4},{"k":"g2","c":"green","x":532.7,"y":15.5},{"k":"g2","c":"green","x":532,"y":13.8},{"k":"g2","c":"green","x":531.3,"y":12.9}
],
"Er":[{"x":531.2,"x2":531.9,"y":88.5,"y2":85},{"x":535.4,"x2":534.2,"y":82.5,"y2":71},{"x":536.4,"x2":535.1,"y":70.5,"y2":67.5},{"x":534.5,"x2":533.6,"y":37,"y2":31},{"x":530.3,"x2":530.9,"y":36,"y2":33},{"x":536.3,"x2":535.2,"y":24,"y2":18.5}],
"Ec":[{"t":"C=O","x":530.7,"y":91.4},{"t":"C–O","x":536.2,"y":86},{"t":"O–H","x":537.4,"y":72.5},{"t":"C–O","x":535.2,"y":40.1},{"t":"C=O","x":529.3,"y":38.5},{"t":"O–H","x":537.2,"y":26.8}],
"El":[{"t":"Before","x":541.1,"y":95.5},{"t":"After","x":541.1,"y":46.4}],
"Eri":[{"t":"O 1s","x":524.7,"y":95.5}],
"F":[
{"k":"e1","c":"env","x":409.9,"y":72.5},{"k":"e1","c":"env","x":409.5,"y":72.6},{"k":"e1","c":"env","x":409,"y":72.7},{"k":"e1","c":"env","x":408.5,"y":72.9},{"k":"e1","c":"env","x":408,"y":73.3},{"k":"e1","c":"env","x":407.5,"y":74},{"k":"e1","c":"env","x":407,"y":74.5},{"k":"e1","c":"env","x":406.5,"y":74.7},{"k":"e1","c":"env","x":406,"y":74.5},{"k":"e1","c":"env","x":405.5,"y":73.8},{"k":"e1","c":"env","x":405,"y":73},{"k":"e1","c":"env","x":404.5,"y":73.5},{"k":"e1","c":"env","x":404,"y":76},{"k":"e1","c":"env","x":403.5,"y":79},{"k":"e1","c":"env","x":403.2,"y":79.7},{"k":"e1","c":"env","x":403,"y":79.5},{"k":"e1","c":"env","x":402.5,"y":78.6},{"k":"e1","c":"env","x":402,"y":79.5},{"k":"e1","c":"env","x":401.5,"y":84},{"k":"e1","c":"env","x":401,"y":88.5},{"k":"e1","c":"env","x":400.5,"y":90.3},{"k":"e1","c":"env","x":400,"y":89},{"k":"e1","c":"env","x":399.5,"y":86.5},{"k":"e1","c":"env","x":399,"y":85.4},{"k":"e1","c":"env","x":398.5,"y":85.8},{"k":"e1","c":"env","x":398,"y":83},{"k":"e1","c":"env","x":397.5,"y":76.5},{"k":"e1","c":"env","x":397,"y":71.5},{"k":"e1","c":"env","x":396.5,"y":69.5},{"k":"e1","c":"env","x":396,"y":68.8},{"k":"e1","c":"env","x":395.5,"y":68.3},{"k":"e1","c":"env","x":395,"y":68},{"k":"e1","c":"env","x":394,"y":67.6},{"k":"e1","c":"env","x":393,"y":67.4},{"k":"e1","c":"env","x":392.5,"y":67.3},
{"k":"b1","c":"bgp","x":409.9,"y":72.3},{"k":"b1","c":"bgp","x":404.8,"y":71.2},{"k":"b1","c":"bgp","x":401.2,"y":70},{"k":"b1","c":"bgp","x":397.6,"y":68.9},{"k":"b1","c":"bgp","x":392.5,"y":67.3},
{"k":"o1","c":"olive","x":409,"y":72.2},{"k":"o1","c":"olive","x":408,"y":72.6},{"k":"o1","c":"olive","x":407.2,"y":73.8},{"k":"o1","c":"olive","x":406.5,"y":74.3},{"k":"o1","c":"olive","x":405.8,"y":74},{"k":"o1","c":"olive","x":405,"y":72.6},{"k":"o1","c":"olive","x":404.2,"y":71.3},
{"k":"g1","c":"green","x":405.2,"y":71.4},{"k":"g1","c":"green","x":404.5,"y":72.5},{"k":"g1","c":"green","x":403.9,"y":75.5},{"k":"g1","c":"green","x":403.4,"y":78.5},{"k":"g1","c":"green","x":403,"y":79.2},{"k":"g1","c":"green","x":402.6,"y":78.3},{"k":"g1","c":"green","x":402.1,"y":75},{"k":"g1","c":"green","x":401.6,"y":72},{"k":"g1","c":"green","x":401,"y":70.3},{"k":"g1","c":"green","x":400.5,"y":69.8},
{"k":"y1","c":"yellow","x":403.2,"y":70.5},{"k":"y1","c":"yellow","x":402.5,"y":72},{"k":"y1","c":"yellow","x":401.8,"y":76.5},{"k":"y1","c":"yellow","x":401.2,"y":81.5},{"k":"y1","c":"yellow","x":400.8,"y":84},{"k":"y1","c":"yellow","x":400.4,"y":84.5},{"k":"y1","c":"yellow","x":399.9,"y":83},{"k":"y1","c":"yellow","x":399.3,"y":78.5},{"k":"y1","c":"yellow","x":398.7,"y":73.5},{"k":"y1","c":"yellow","x":398.2,"y":70.3},{"k":"y1","c":"yellow","x":397.6,"y":69},
{"k":"l1","c":"lblue","x":400.6,"y":69.8},{"k":"l1","c":"lblue","x":400,"y":71.5},{"k":"l1","c":"lblue","x":399.4,"y":75},{"k":"l1","c":"lblue","x":398.9,"y":79},{"k":"l1","c":"lblue","x":398.5,"y":81},{"k":"l1","c":"lblue","x":398.1,"y":80},{"k":"l1","c":"lblue","x":397.6,"y":76},{"k":"l1","c":"lblue","x":397.1,"y":72},{"k":"l1","c":"lblue","x":396.6,"y":69.3},{"k":"l1","c":"lblue","x":396,"y":68.6},
{"k":"n1","c":"gray","x":409.75,"y":70},{"k":"n1","c":"gray","x":409.5,"y":76},{"k":"n1","c":"gray","x":409.25,"y":71},{"k":"n1","c":"gray","x":409,"y":75.5},{"k":"n1","c":"gray","x":408.75,"y":69},{"k":"n1","c":"gray","x":408.5,"y":74},{"k":"n1","c":"gray","x":408.25,"y":72},{"k":"n1","c":"gray","x":408,"y":78},{"k":"n1","c":"gray","x":407.75,"y":71.5},{"k":"n1","c":"gray","x":407.5,"y":76.5},{"k":"n1","c":"gray","x":407.25,"y":70.5},{"k":"n1","c":"gray","x":407,"y":79},{"k":"n1","c":"gray","x":406.75,"y":73},{"k":"n1","c":"gray","x":406.5,"y":77},{"k":"n1","c":"gray","x":406.25,"y":71},{"k":"n1","c":"gray","x":406,"y":76.5},{"k":"n1","c":"gray","x":405.75,"y":69.5},{"k":"n1","c":"gray","x":405.5,"y":75},{"k":"n1","c":"gray","x":405.25,"y":68.5},{"k":"n1","c":"gray","x":405,"y":74.5},{"k":"n1","c":"gray","x":404.75,"y":70},{"k":"n1","c":"gray","x":404.5,"y":77},{"k":"n1","c":"gray","x":404.25,"y":73.5},{"k":"n1","c":"gray","x":404,"y":80},{"k":"n1","c":"gray","x":403.75,"y":75.5},{"k":"n1","c":"gray","x":403.5,"y":82.5},{"k":"n1","c":"gray","x":403.25,"y":77},{"k":"n1","c":"gray","x":403,"y":83},{"k":"n1","c":"gray","x":402.75,"y":75.5},{"k":"n1","c":"gray","x":402.5,"y":81},{"k":"n1","c":"gray","x":402.25,"y":76},{"k":"n1","c":"gray","x":402,"y":83.5},{"k":"n1","c":"gray","x":401.75,"y":79},{"k":"n1","c":"gray","x":401.5,"y":87.5},{"k":"n1","c":"gray","x":401.25,"y":83.5},{"k":"n1","c":"gray","x":401,"y":92},{"k":"n1","c":"gray","x":400.75,"y":87},{"k":"n1","c":"gray","x":400.5,"y":94},{"k":"n1","c":"gray","x":400.25,"y":88},{"k":"n1","c":"gray","x":400,"y":92.5},{"k":"n1","c":"gray","x":399.75,"y":85},{"k":"n1","c":"gray","x":399.5,"y":90},{"k":"n1","c":"gray","x":399.25,"y":83},{"k":"n1","c":"gray","x":399,"y":88.5},{"k":"n1","c":"gray","x":398.75,"y":82},{"k":"n1","c":"gray","x":398.5,"y":89},{"k":"n1","c":"gray","x":398.25,"y":81},{"k":"n1","c":"gray","x":398,"y":86},{"k":"n1","c":"gray","x":397.75,"y":77},{"k":"n1","c":"gray","x":397.5,"y":80},{"k":"n1","c":"gray","x":397.25,"y":71.5},{"k":"n1","c":"gray","x":397,"y":75},{"k":"n1","c":"gray","x":396.75,"y":66},{"k":"n1","c":"gray","x":396.5,"y":72},{"k":"n1","c":"gray","x":396.25,"y":64.5},{"k":"n1","c":"gray","x":396,"y":71},{"k":"n1","c":"gray","x":395.75,"y":65},{"k":"n1","c":"gray","x":395.5,"y":70.5},{"k":"n1","c":"gray","x":395.25,"y":62},{"k":"n1","c":"gray","x":395,"y":69},{"k":"n1","c":"gray","x":394.75,"y":66},{"k":"n1","c":"gray","x":394.5,"y":71},{"k":"n1","c":"gray","x":394.25,"y":64},{"k":"n1","c":"gray","x":394,"y":69.5},{"k":"n1","c":"gray","x":393.75,"y":66.5},{"k":"n1","c":"gray","x":393.5,"y":70},{"k":"n1","c":"gray","x":393.25,"y":63.5},{"k":"n1","c":"gray","x":393,"y":68.5},{"k":"n1","c":"gray","x":392.75,"y":66},{"k":"n1","c":"gray","x":392.5,"y":69},
{"k":"e2","c":"env","x":409.9,"y":15.5},{"k":"e2","c":"env","x":408.45,"y":16.7},{"k":"e2","c":"env","x":407,"y":19.6},{"k":"e2","c":"env","x":405.9,"y":20.5},{"k":"e2","c":"env","x":404.8,"y":19.4},{"k":"e2","c":"env","x":404.2,"y":19.6},{"k":"e2","c":"env","x":403.6,"y":21.5},{"k":"e2","c":"env","x":403,"y":24.5},{"k":"e2","c":"env","x":402.3,"y":30.5},{"k":"e2","c":"env","x":401.6,"y":38},{"k":"e2","c":"env","x":400.84,"y":41.9},{"k":"e2","c":"env","x":400.1,"y":38.1},{"k":"e2","c":"env","x":399.6,"y":33.6},{"k":"e2","c":"env","x":399,"y":36.5},{"k":"e2","c":"env","x":398.5,"y":38.5},{"k":"e2","c":"env","x":397.9,"y":34.7},{"k":"e2","c":"env","x":397.4,"y":25.7},{"k":"e2","c":"env","x":396.9,"y":17.8},{"k":"e2","c":"env","x":396.2,"y":15.5},{"k":"e2","c":"env","x":392.5,"y":15.5},
{"k":"b2","c":"bgp","x":409.9,"y":15.4},{"k":"b2","c":"bgp","x":400,"y":15.2},{"k":"b2","c":"bgp","x":392.5,"y":15.3},
{"k":"o2","c":"olive","x":409.5,"y":15.5},{"k":"o2","c":"olive","x":409,"y":15.6},{"k":"o2","c":"olive","x":408,"y":16.6},{"k":"o2","c":"olive","x":407,"y":18.8},{"k":"o2","c":"olive","x":406,"y":20.3},{"k":"o2","c":"olive","x":405.3,"y":20},{"k":"o2","c":"olive","x":404.5,"y":18.3},{"k":"o2","c":"olive","x":403.7,"y":16.5},{"k":"o2","c":"olive","x":403,"y":15.6},{"k":"o2","c":"olive","x":402.3,"y":15.3},
{"k":"g2","c":"purple","x":404.5,"y":15.4},{"k":"g2","c":"purple","x":403.8,"y":16.5},{"k":"g2","c":"purple","x":403.3,"y":18},{"k":"g2","c":"purple","x":403,"y":18.5},{"k":"g2","c":"purple","x":402.6,"y":17.8},{"k":"g2","c":"purple","x":402.1,"y":16.3},{"k":"g2","c":"purple","x":401.5,"y":15.4},
{"k":"y2","c":"yellow","x":403.8,"y":15.6},{"k":"y2","c":"yellow","x":403.2,"y":17.5},{"k":"y2","c":"yellow","x":402.6,"y":22},{"k":"y2","c":"yellow","x":402.1,"y":28},{"k":"y2","c":"yellow","x":401.6,"y":35},{"k":"y2","c":"yellow","x":401.2,"y":39.5},{"k":"y2","c":"yellow","x":400.84,"y":41},{"k":"y2","c":"yellow","x":400.4,"y":39.5},{"k":"y2","c":"yellow","x":399.9,"y":33},{"k":"y2","c":"yellow","x":399.4,"y":25},{"k":"y2","c":"yellow","x":398.8,"y":19.5},{"k":"y2","c":"yellow","x":398.2,"y":16.5},{"k":"y2","c":"yellow","x":397.5,"y":15.4},
{"k":"l2","c":"lblue","x":400.5,"y":15.5},{"k":"l2","c":"lblue","x":400,"y":17},{"k":"l2","c":"lblue","x":399.5,"y":19.5},{"k":"l2","c":"lblue","x":399,"y":27},{"k":"l2","c":"lblue","x":398.5,"y":36},{"k":"l2","c":"lblue","x":398,"y":33},{"k":"l2","c":"lblue","x":397.5,"y":25},{"k":"l2","c":"lblue","x":397,"y":18.5},{"k":"l2","c":"lblue","x":396.5,"y":15.8},{"k":"l2","c":"lblue","x":396,"y":15.3}
],
"Fr":[{"x":407.4,"x2":406.5,"y":77.5,"y2":74.8},{"x":403.6,"x2":403,"y":86,"y2":80.5},{"x":399.9,"x2":400.3,"y":89.5,"y2":87.5},{"x":396.8,"x2":397.5,"y":81,"y2":78.5},{"x":396.4,"x2":397.4,"y":38.5,"y2":36.8},{"x":403,"x2":403,"y":31,"y2":20},{"x":406.6,"x2":405.6,"y":23.5,"y2":21.3}],
"Fc":[{"t":"graphitic N","x":403.8,"y":89},{"t":"pyrrolic N","x":398.1,"y":91.9},{"t":"pyridinic N","x":395,"y":84.5},{"t":"oxidized N","x":408.05,"y":80.2},{"t":"pyrrolic N","x":401.6,"y":47.1},{"t":"pyridinic N","x":395.2,"y":41.4},{"t":"graphitic N","x":404.3,"y":33.6},{"t":"oxidized N","x":408,"y":25.2}],
"Fl":[{"t":"Before","x":409.7,"y":95.9},{"t":"After","x":409.7,"y":47.1}],
"Fri":[{"t":"N 1s","x":392.7,"y":95.9}]
},
"concat":[
{"width":160,"height":148,"title":{"text":"A"},
 "encoding":{"x":{"field":"x","type":"quantitative","scale":{"domain":[0,1200],"nice":false,"zero":false},"axis":{"values":[0,150,300,450,600,750,900,1050,1200],"format":"d","labelExpr":"datum.value % 300 == 0 ? datum.label : ''"},"title":"Binding energy (eV)"},
  "y":{"field":"y","type":"quantitative","scale":{"domain":[0,100],"nice":false,"zero":false},"title":"Intensity (a.u.)"}},
 "layer":[
  {"data":{"name":"A"},"mark":{"type":"line","color":"#000","strokeWidth":1},"encoding":{"detail":{"field":"k","type":"nominal"}}},
  {"data":{"name":"Ar"},"mark":{"type":"rule","color":"#000","strokeWidth":1.3},"encoding":{"x2":{"field":"x2"},"y2":{"field":"y2"}}},
  {"data":{"name":"At"},"mark":{"type":"text","angle":270,"align":"center","baseline":"middle","fontSize":8.5},"encoding":{"text":{"field":"t"}}},
  {"data":{"name":"Al"},"mark":{"type":"text","align":"left","baseline":"middle","fontSize":7},"encoding":{"text":{"field":"t"}}}
 ]},
{"width":160,"height":148,"title":{"text":"B"},
 "encoding":{"x":{"field":"x","type":"quantitative","scale":{"domain":[925,965],"reverse":true,"nice":false,"zero":false},"axis":{"values":[925,930,935,940,945,950,955,960,965],"labelExpr":"datum.value % 10 == 5 ? datum.label : ''"},"title":"Binding energy (eV)"},
  "y":{"field":"y","type":"quantitative","scale":{"domain":[0,100],"nice":false,"zero":false},"title":"Intensity (a.u.)"}},
 "layer":[
  {"data":{"name":"B"},"transform":[{"filter":"datum.c=='env'"}],"mark":{"type":"line","color":"#f5a3c0","strokeWidth":6,"opacity":0.3,"interpolate":"monotone"},"encoding":{"detail":{"field":"k","type":"nominal"}}},
  {"data":{"name":"B"},"transform":[{"filter":"datum.c=='gray'"}],"mark":{"type":"line","color":"#8c8c8c","strokeWidth":0.8},"encoding":{"detail":{"field":"k","type":"nominal"}}},
  {"data":{"name":"B"},"transform":[{"filter":"datum.c!='gray'&&datum.c!='env'"}],"mark":{"type":"line","strokeWidth":1.3,"interpolate":"monotone"},"encoding":{"detail":{"field":"k","type":"nominal"},"color":{"field":"c","type":"nominal","legend":null,"scale":{"domain":["env","envp","bg","bgp","green","yellow","purple","lblue","red","olive"],"range":["#7d3a14","#a24ee6","#2233d6","#8a72ee","#6fb62e","#e4dc22","#9146f0","#5a9ef2","#b3472c","#8e6b4e"]}}}},
  {"data":{"name":"B"},"transform":[{"filter":"datum.c=='env'"}],"mark":{"type":"line","strokeWidth":1.6,"interpolate":"monotone","color":"#7d3a14"},"encoding":{"detail":{"field":"k","type":"nominal"}}},
  {"data":{"name":"Br"},"mark":{"type":"rule","color":"#3a5ad8","strokeWidth":0.9},"encoding":{"x2":{"field":"x2"},"y2":{"field":"y2"}}},
  {"data":{"name":"Bc"},"mark":{"type":"text","align":"center","fontSize":8.5},"encoding":{"text":{"field":"t"}}},
  {"data":{"name":"Bri"},"mark":{"type":"text","align":"right","fontSize":8.5},"encoding":{"text":{"field":"t"}}}
 ]},
{"width":160,"height":148,"title":{"text":"C"},
 "encoding":{"x":{"field":"x","type":"quantitative","scale":{"domain":[342,358],"reverse":true,"nice":false,"zero":false},"axis":{"values":[342,344,346,348,350,352,354,356,358],"labelExpr":"(358 - datum.value) % 4 == 0 ? datum.label : ''"},"title":"Binding energy (eV)"},
  "y":{"field":"y","type":"quantitative","scale":{"domain":[0,100],"nice":false,"zero":false},"title":"Intensity (a.u.)"}},
 "layer":[
  {"data":{"name":"C"},"transform":[{"filter":"datum.c=='env'"}],"mark":{"type":"line","color":"#f5a3c0","strokeWidth":6,"opacity":0.3,"interpolate":"monotone"},"encoding":{"detail":{"field":"k","type":"nominal"}}},
  {"data":{"name":"C"},"transform":[{"filter":"datum.c=='gray'"}],"mark":{"type":"line","color":"#8c8c8c","strokeWidth":0.8},"encoding":{"detail":{"field":"k","type":"nominal"}}},
  {"data":{"name":"C"},"transform":[{"filter":"datum.c!='gray'&&datum.c!='env'"}],"mark":{"type":"line","strokeWidth":1.3,"interpolate":"monotone"},"encoding":{"detail":{"field":"k","type":"nominal"},"color":{"field":"c","type":"nominal","legend":null,"scale":{"domain":["env","envp","bg","bgp","green","yellow","purple","lblue","red","olive"],"range":["#7d3a14","#a24ee6","#2233d6","#8a72ee","#6fb62e","#e4dc22","#9146f0","#5a9ef2","#b3472c","#8e6b4e"]}}}},
  {"data":{"name":"C"},"transform":[{"filter":"datum.c=='env'"}],"mark":{"type":"line","strokeWidth":1.6,"interpolate":"monotone","color":"#7d3a14"},"encoding":{"detail":{"field":"k","type":"nominal"}}},
  {"data":{"values":[{"x":342,"x2":358,"y":49.1,"y2":49.1}]},"mark":{"type":"rule","color":"#000","strokeWidth":1.3},"encoding":{"x2":{"field":"x2"},"y2":{"field":"y2"}}},
  {"data":{"name":"Cl"},"mark":{"type":"text","align":"left","fontSize":9.5},"encoding":{"text":{"field":"t"}}},
  {"data":{"name":"Cri"},"mark":{"type":"text","align":"right","fontSize":9.5},"encoding":{"text":{"field":"t"}}}
 ]},
{"width":160,"height":148,"title":{"text":"D"},
 "encoding":{"x":{"field":"x","type":"quantitative","scale":{"domain":[281,291.7],"reverse":true,"nice":false,"zero":false},"axis":{"values":[281.5,282.75,284,285.25,286.5,287.75,289,290.25,291.5],"labelFontSize":9,"labelPadding":0,"titlePadding":0,"labelExpr":"abs((291.5 - datum.value) / 2.5 - round((291.5 - datum.value) / 2.5)) < 0.01 ? format(datum.value, '.1f') : ''"},"title":"Binding energy (eV)"},
  "y":{"field":"y","type":"quantitative","scale":{"domain":[0,100],"nice":false,"zero":false},"title":"Intensity (a.u.)"}},
 "layer":[
  {"data":{"name":"D"},"transform":[{"filter":"datum.c=='envp'"}],"mark":{"type":"line","color":"#f5a3c0","strokeWidth":6,"opacity":0.3,"interpolate":"monotone"},"encoding":{"detail":{"field":"k","type":"nominal"}}},
  {"data":{"name":"D"},"transform":[{"filter":"datum.c!='envp'"}],"mark":{"type":"line","strokeWidth":1.3,"interpolate":"monotone"},"encoding":{"detail":{"field":"k","type":"nominal"},"color":{"field":"c","type":"nominal","legend":null,"scale":{"domain":["env","envp","bg","bgp","green","yellow","purple","lblue","red","olive"],"range":["#7d3a14","#a24ee6","#2233d6","#8a72ee","#6fb62e","#e4dc22","#9146f0","#5a9ef2","#b3472c","#8e6b4e"]}}}},
  {"data":{"name":"D"},"transform":[{"filter":"datum.c=='envp'"}],"mark":{"type":"line","strokeWidth":1.6,"interpolate":"monotone","color":"#a24ee6"},"encoding":{"detail":{"field":"k","type":"nominal"}}},
  {"data":{"values":[{"x":281,"x2":291.7,"y":52.7,"y2":52.7}]},"mark":{"type":"rule","color":"#000","strokeWidth":1.3},"encoding":{"x2":{"field":"x2"},"y2":{"field":"y2"}}},
  {"data":{"name":"Dr"},"mark":{"type":"rule","color":"#9a9a9a","strokeWidth":0.8},"encoding":{"x2":{"field":"x2"},"y2":{"field":"y2"}}},
  {"data":{"name":"Dc"},"mark":{"type":"text","align":"center","fontSize":9},"encoding":{"text":{"field":"t"}}},
  {"data":{"name":"Dl"},"mark":{"type":"text","align":"left","fontSize":9.5},"encoding":{"text":{"field":"t"}}},
  {"data":{"name":"Dri"},"mark":{"type":"text","align":"right","fontSize":9.5},"encoding":{"text":{"field":"t"}}}
 ]},
{"width":160,"height":148,"title":{"text":"E"},
 "encoding":{"x":{"field":"x","type":"quantitative","scale":{"domain":[524.5,541.2],"reverse":true,"nice":false,"zero":false},"axis":{"values":[525,527,529,531,533,535,537,539,541],"labelFontSize":9,"labelPadding":0,"titlePadding":0,"labelExpr":"(541 - datum.value) % 4 == 0 ? datum.label : ''"},"title":"Binding energy (eV)"},
  "y":{"field":"y","type":"quantitative","scale":{"domain":[0,100],"nice":false,"zero":false},"title":"Intensity (a.u.)"}},
 "layer":[
  {"data":{"name":"E"},"transform":[{"filter":"datum.c=='env'"}],"mark":{"type":"line","color":"#f5a3c0","strokeWidth":6,"opacity":0.3,"interpolate":"monotone"},"encoding":{"detail":{"field":"k","type":"nominal"}}},
  {"data":{"name":"E"},"transform":[{"filter":"datum.c!='env'"}],"mark":{"type":"line","strokeWidth":1.3,"interpolate":"monotone"},"encoding":{"detail":{"field":"k","type":"nominal"},"color":{"field":"c","type":"nominal","legend":null,"scale":{"domain":["env","envp","bg","bgp","green","yellow","purple","lblue","red","olive"],"range":["#7d3a14","#a24ee6","#2233d6","#8a72ee","#6fb62e","#e4dc22","#9146f0","#5a9ef2","#b3472c","#8e6b4e"]}}}},
  {"data":{"name":"E"},"transform":[{"filter":"datum.c=='env'"}],"mark":{"type":"line","strokeWidth":1.6,"interpolate":"monotone","color":"#7d3a14"},"encoding":{"detail":{"field":"k","type":"nominal"}}},
  {"data":{"values":[{"x":524.5,"x2":541.2,"y":51.6,"y2":51.6}]},"mark":{"type":"rule","color":"#000","strokeWidth":1.3},"encoding":{"x2":{"field":"x2"},"y2":{"field":"y2"}}},
  {"data":{"name":"Er"},"mark":{"type":"rule","color":"#9a9a9a","strokeWidth":0.8},"encoding":{"x2":{"field":"x2"},"y2":{"field":"y2"}}},
  {"data":{"name":"Ec"},"mark":{"type":"text","align":"center","fontSize":9},"encoding":{"text":{"field":"t"}}},
  {"data":{"name":"El"},"mark":{"type":"text","align":"left","fontSize":9.5},"encoding":{"text":{"field":"t"}}},
  {"data":{"name":"Eri"},"mark":{"type":"text","align":"right","fontSize":9.5},"encoding":{"text":{"field":"t"}}}
 ]},
{"width":160,"height":148,"title":{"text":"F"},
 "encoding":{"x":{"field":"x","type":"quantitative","scale":{"domain":[392.5,409.9],"reverse":true,"nice":false,"zero":false},"axis":{"values":[393,395,397,399,401,403,405,407,409],"labelFontSize":9,"labelPadding":0,"titlePadding":0,"labelExpr":"(409 - datum.value) % 4 == 0 ? datum.label : ''"},"title":"Binding energy (eV)"},
  "y":{"field":"y","type":"quantitative","scale":{"domain":[0,100],"nice":false,"zero":false},"title":"Intensity (a.u.)"}},
 "layer":[
  {"data":{"name":"F"},"transform":[{"filter":"datum.c=='env'"}],"mark":{"type":"line","color":"#f5a3c0","strokeWidth":6,"opacity":0.3,"interpolate":"monotone"},"encoding":{"detail":{"field":"k","type":"nominal"}}},
  {"data":{"name":"F"},"transform":[{"filter":"datum.c=='gray'"}],"mark":{"type":"line","color":"#8c8c8c","strokeWidth":0.8},"encoding":{"detail":{"field":"k","type":"nominal"}}},
  {"data":{"name":"F"},"transform":[{"filter":"datum.c!='gray'&&datum.c!='env'"}],"mark":{"type":"line","strokeWidth":1.3,"interpolate":"monotone"},"encoding":{"detail":{"field":"k","type":"nominal"},"color":{"field":"c","type":"nominal","legend":null,"scale":{"domain":["env","envp","bg","bgp","green","yellow","purple","lblue","red","olive"],"range":["#7d3a14","#a24ee6","#2233d6","#8a72ee","#6fb62e","#e4dc22","#9146f0","#5a9ef2","#b3472c","#8e6b4e"]}}}},
  {"data":{"name":"F"},"transform":[{"filter":"datum.c=='env'"}],"mark":{"type":"line","strokeWidth":1.6,"interpolate":"monotone","color":"#7d3a14"},"encoding":{"detail":{"field":"k","type":"nominal"}}},
  {"data":{"values":[{"x":392.5,"x2":409.9,"y":52,"y2":52}]},"mark":{"type":"rule","color":"#000","strokeWidth":1.3},"encoding":{"x2":{"field":"x2"},"y2":{"field":"y2"}}},
  {"data":{"name":"Fr"},"mark":{"type":"rule","color":"#9a9a9a","strokeWidth":0.8},"encoding":{"x2":{"field":"x2"},"y2":{"field":"y2"}}},
  {"data":{"name":"Fc"},"mark":{"type":"text","align":"center","fontSize":8.5},"encoding":{"text":{"field":"t"}}},
  {"data":{"name":"Fl"},"mark":{"type":"text","align":"left","fontSize":9.5},"encoding":{"text":{"field":"t"}}},
  {"data":{"name":"Fri"},"mark":{"type":"text","align":"right","fontSize":9.5},"encoding":{"text":{"field":"t"}}}
 ]}
]
}
